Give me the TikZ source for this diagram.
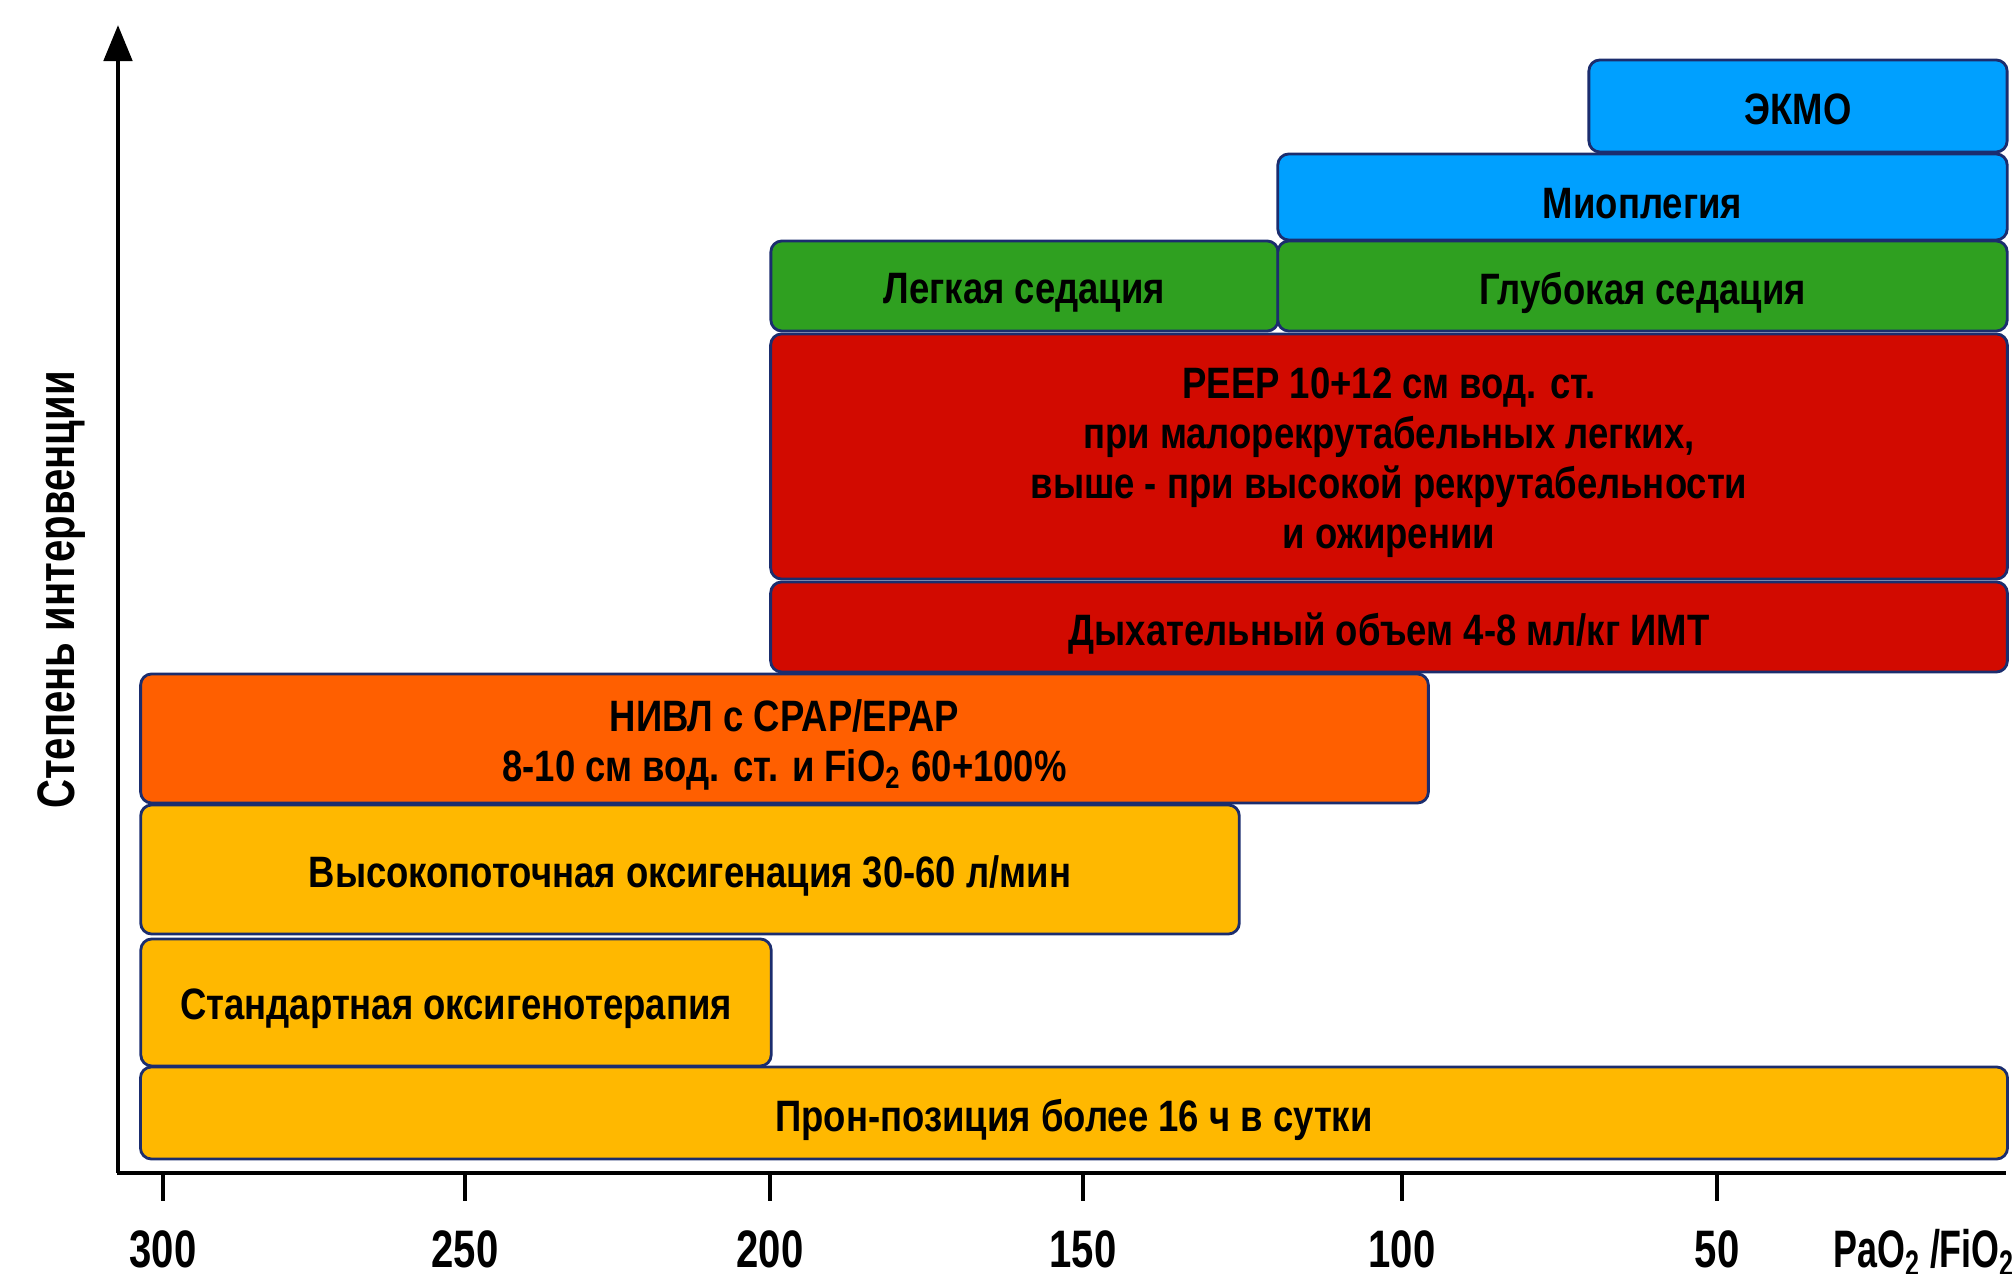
\documentclass[tikz,border=0pt]{standalone}
\usepackage{fontspec}
\setmainfont{Liberation Sans}[FakeStretch=0.83]
\newfontfamily\axisfont{Liberation Sans}[FakeStretch=0.76]
\newfontfamily\xlabfont{Liberation Sans}[FakeStretch=0.68]
\usetikzlibrary{arrows.meta}
\definecolor{amber}{RGB}{255,184,0}
\definecolor{orng}{RGB}{255,95,0}
\definecolor{redbox}{RGB}{210,10,0}
\definecolor{greenbox}{RGB}{47,160,32}
\definecolor{bluebox}{RGB}{0,160,255}
\definecolor{edge}{RGB}{27,45,110}
\tikzset{
  box/.style={draw=edge, line width=0.8pt, rounded corners=0.11cm, inner sep=0pt},
  lbl/.style={align=center, inner sep=0pt, yshift=-0.065cm,
    font=\fontsize{12.5}{14.2}\selectfont\bfseries},
  axisline/.style={line width=1.4pt, black},
  ticklab/.style={font=\axisfont\fontsize{15}{18}\selectfont\bfseries, inner sep=0pt}
}
\begin{document}
\begin{tikzpicture}[x=0.01cm, y=-0.01cm]
\useasboundingbox (0,0) rectangle (2014,1274);
% boxes
\node[box, fill=amber, minimum width=18.66cm, minimum height=0.92cm] (pron) at (1074,1113) {};
\node[box, fill=amber, minimum width=6.30cm, minimum height=1.27cm] (std) at (456,1002.5) {};
\node[box, fill=amber, minimum width=10.98cm, minimum height=1.29cm] (hf) at (690,869.5) {};
\node[box, fill=orng, minimum width=12.87cm, minimum height=1.29cm] (niv) at (784.5,738.5) {};
\node[box, fill=redbox, minimum width=12.36cm, minimum height=0.90cm] (vt) at (1389,627) {};
\node[box, fill=redbox, minimum width=12.36cm, minimum height=2.45cm] (peep) at (1389,456.5) {};
\node[box, fill=greenbox, minimum width=5.07cm, minimum height=0.90cm] (light) at (1024.5,286) {};
\node[box, fill=greenbox, minimum width=7.29cm, minimum height=0.90cm] (deep) at (1642.5,286) {};
\node[box, fill=bluebox, minimum width=7.29cm, minimum height=0.86cm] (myo) at (1642.5,197) {};
\node[box, fill=bluebox, minimum width=4.18cm, minimum height=0.92cm] (ecmo) at (1798,106) {};
% box texts
\node[lbl] (pront) at (pron.center) {Прон-позиция более 16 ч в сутки};
\node[lbl] (stdt) at (std.center) {Стандартная оксигенотерапия};
\node[lbl] (hft) at (hf.center) {Высокопоточная оксигенация 30-60 л/мин};
\node[lbl] (nivt) at (niv.center) {НИВЛ с CPAP/EPAP\\8-10 см вод. ст. и FiO\textsubscript{2} 60+100\%};
\node[lbl] (vtt) at (vt.center) {Дыхательный объем 4-8 мл/кг ИМТ};
\node[lbl] (peept) at (peep.center) {PEEP 10+12 см вод. ст.\\при малорекрутабельных легких,\\выше - при высокой рекрутабельности\\и ожирении};
\node[lbl] (lightt) at (light.center) {Легкая седация};
\node[lbl] (deept) at (deep.center) {Глубокая седация};
\node[lbl] (myot) at (myo.center) {Миоплегия};
\node[lbl, yshift=0.03cm] (ecmot) at (ecmo.center) {ЭКМО};
% axes
\coordinate (o) at (118,1173);
\coordinate (ytop) at (118,25);
\coordinate (xend) at (2006,1173);
\draw[axisline, -{Triangle[length=0.36cm,width=0.28cm]}] (o) -- (ytop);
\draw[axisline] ([xshift=-0.007cm]o) -- (xend);
\foreach \v/\x in {300/163, 250/465, 200/770, 150/1083, 100/1402, 50/1717}{
  \coordinate (t\v) at (\x,1173);
  \draw[line width=1.2pt] (t\v) -- ++(0,28);
  \node[ticklab, anchor=base] (l\v) at (\x,1268) {\v};
}
\node[ticklab, font=\xlabfont\fontsize{15}{18}\selectfont\bfseries, anchor=base west] (xlab) at (1833,1268) {PaO\textsubscript{2}\,/FiO\textsubscript{2}};
\node[ticklab, rotate=90] (ylab) at (62,590) {Степень интервенции};
\end{tikzpicture}
\end{document}
